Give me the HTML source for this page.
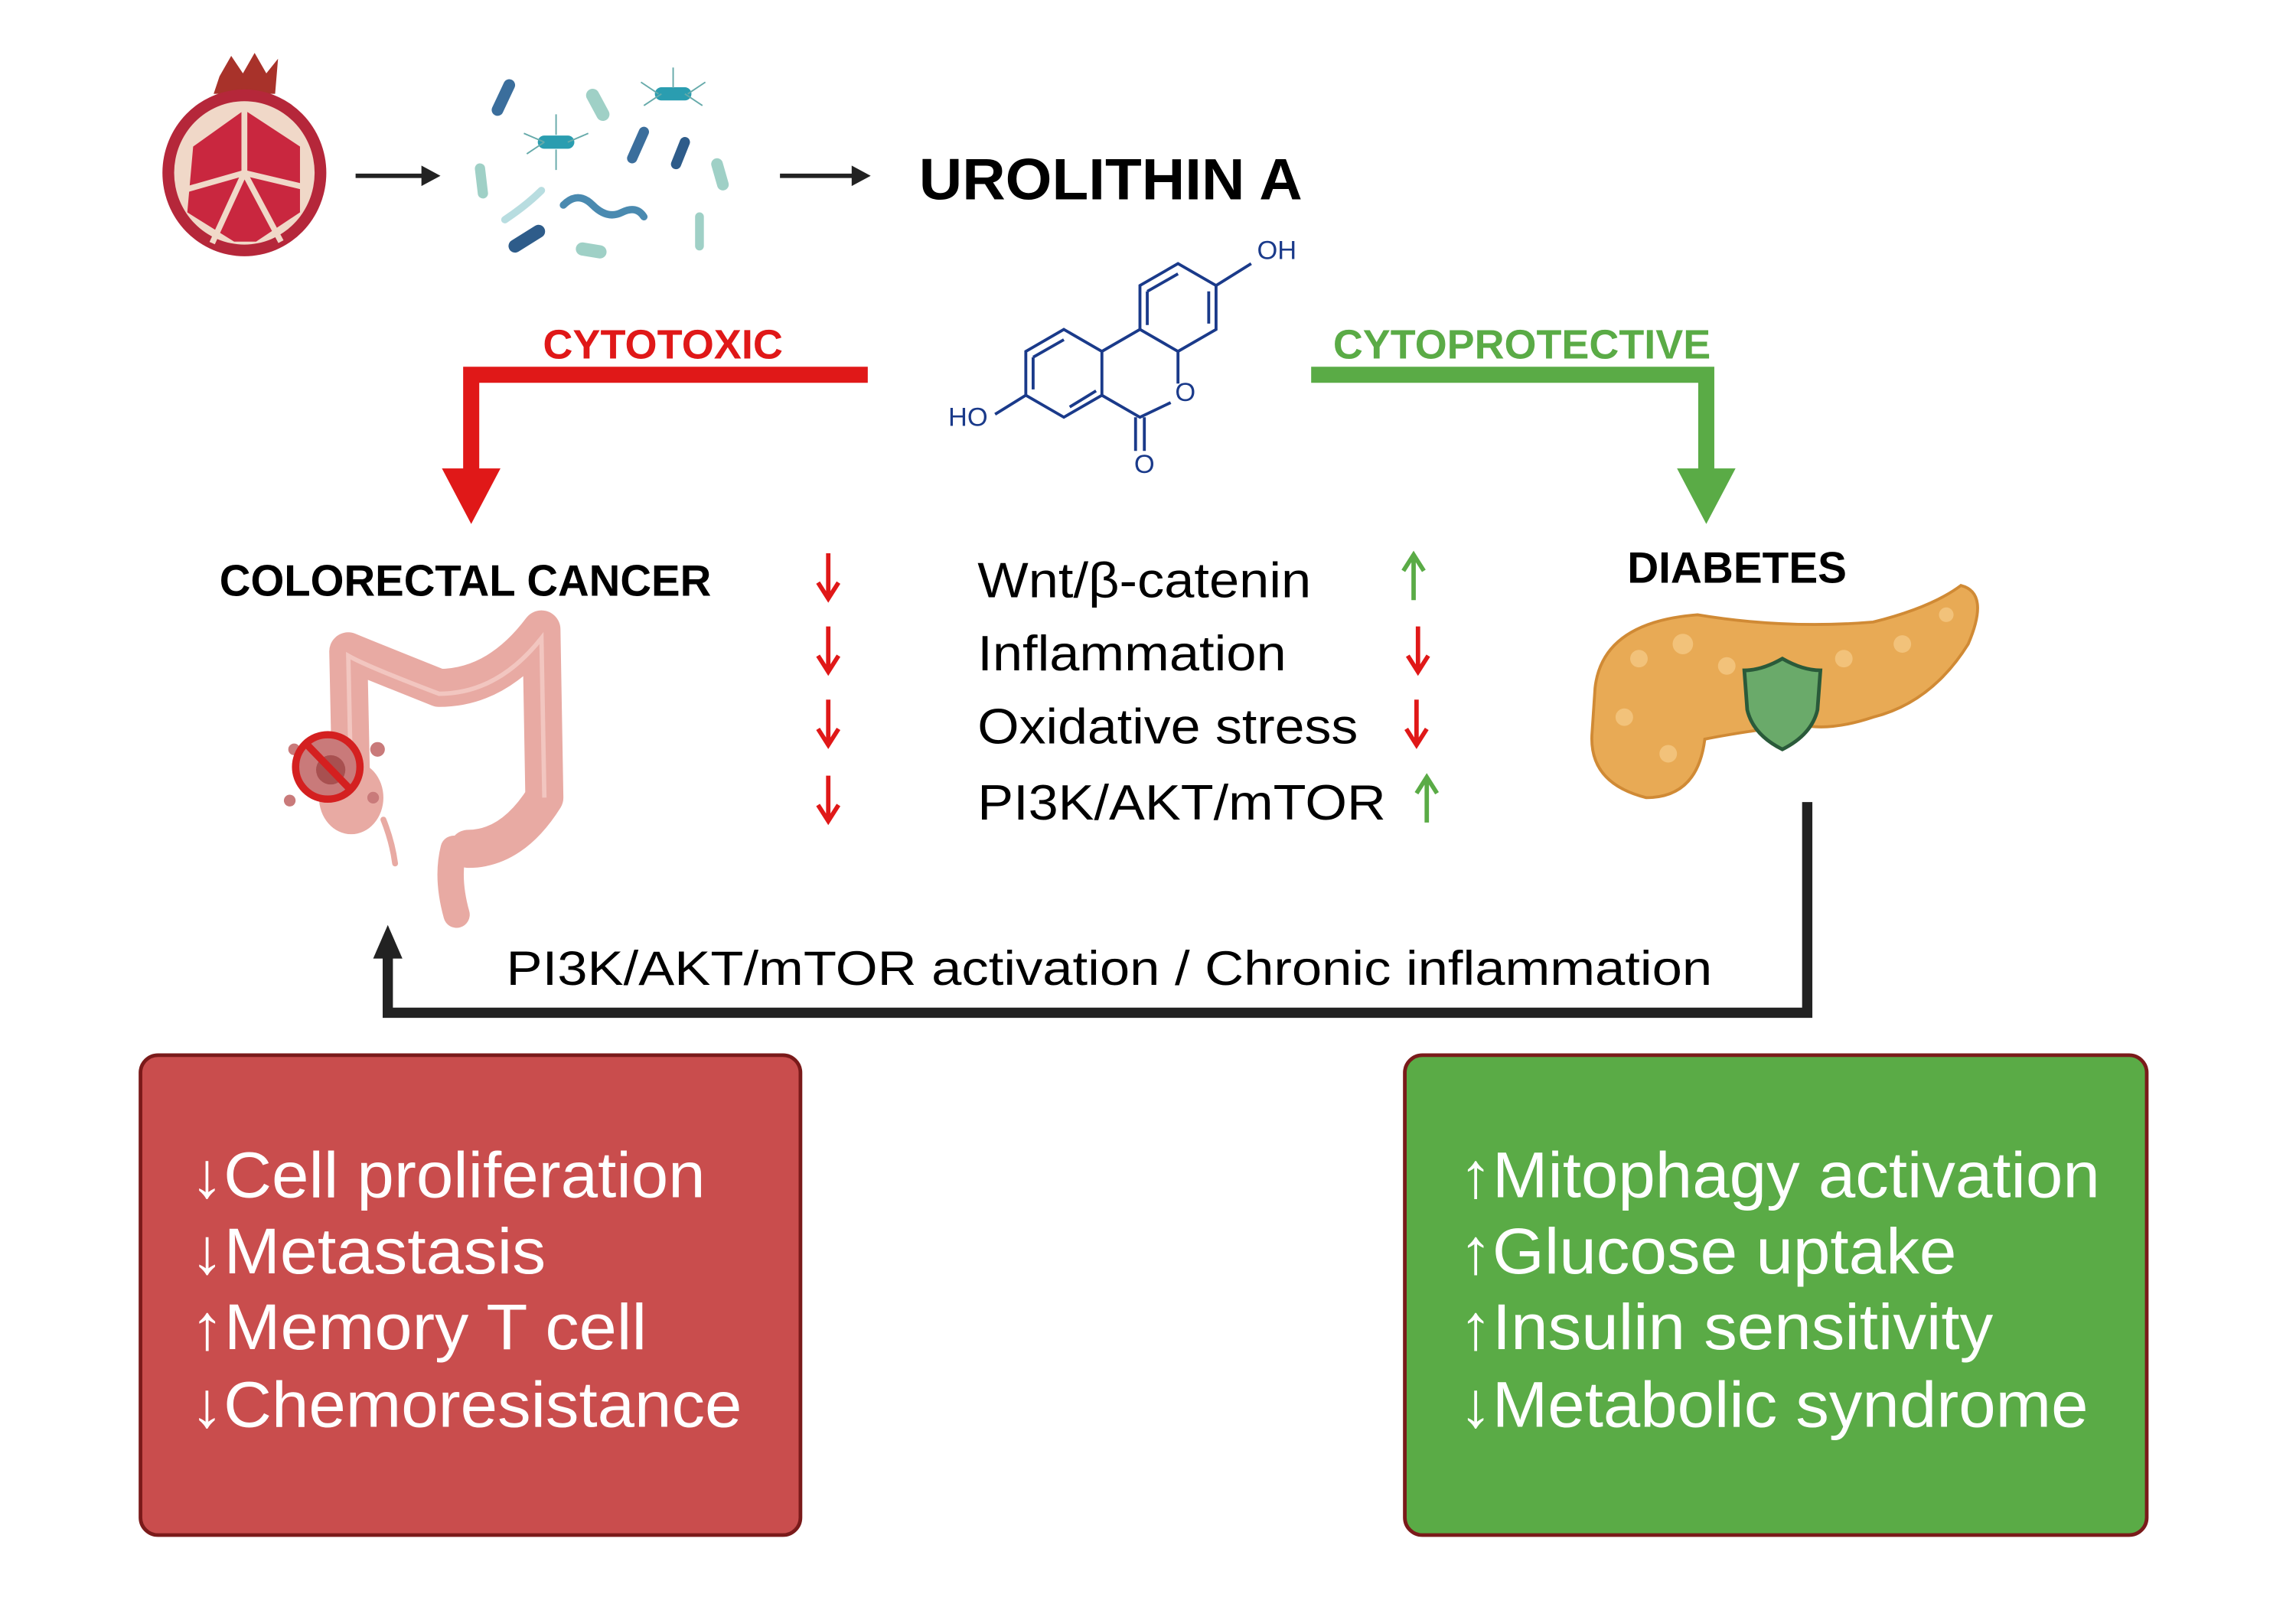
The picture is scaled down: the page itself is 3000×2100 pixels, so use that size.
<!DOCTYPE html>
<html><head><meta charset="utf-8"><style>
html,body{margin:0;padding:0;background:#fff}
svg{display:block}
text{font-family:"Liberation Sans",Arial,sans-serif}
</style></head><body>
<svg width="3000" height="2100" viewBox="0 0 1569 1098" xmlns="http://www.w3.org/2000/svg">
<rect width="1600" height="1100" fill="#fff"/>
<!-- pomegranate -->
<g>
<path d="M150 52 L158 38 L166 50 L174 36 L182 50 L190 40 L188 64 L146 64 Z" fill="#a8322a"/>
<ellipse cx="167" cy="118" rx="56" ry="57" fill="#b5273a"/>
<ellipse cx="167" cy="118" rx="48" ry="49" fill="#f0d8c8"/>
<path d="M167 75 L132 100 L128 145 L160 165 L175 165 L205 145 L205 100 Z" fill="#c9273f"/>
<g stroke="#f0d8c8" stroke-width="4">
<line x1="167" y1="118" x2="167" y2="70"/><line x1="167" y1="118" x2="125" y2="130"/><line x1="167" y1="118" x2="209" y2="128"/><line x1="167" y1="118" x2="145" y2="166"/><line x1="167" y1="118" x2="192" y2="165"/>
</g>
</g>
<!-- arrows -->
<g stroke="#222" stroke-width="3" fill="#222">
<line x1="243" y1="120" x2="290" y2="120"/><path d="M288 113 L301 120 L288 127 Z" stroke="none"/>
<line x1="533" y1="120" x2="583" y2="120"/><path d="M582 113 L595 120 L582 127 Z" stroke="none"/>
</g>
<!-- bacteria -->
<g stroke-linecap="round">
<line x1="340" y1="75" x2="348" y2="58" stroke="#3b6e9c" stroke-width="8"/>
<line x1="405" y1="65" x2="412" y2="78" stroke="#9fd0c6" stroke-width="9"/>
<line x1="452" y1="64" x2="468" y2="64" stroke="#2a9db0" stroke-width="9"/>
<line x1="372" y1="97" x2="388" y2="97" stroke="#2a9db0" stroke-width="9"/>
<line x1="432" y1="108" x2="440" y2="90" stroke="#3b6e9c" stroke-width="7"/>
<line x1="462" y1="112" x2="468" y2="97" stroke="#2e5c8a" stroke-width="7"/>
<line x1="490" y1="112" x2="494" y2="126" stroke="#9fd0c6" stroke-width="8"/>
<line x1="328" y1="115" x2="330" y2="132" stroke="#9fd0c6" stroke-width="7"/>
<path d="M385 140 Q395 130 405 140 T425 145 T440 148" stroke="#4a8ab0" stroke-width="5" fill="none"/>
<path d="M345 150 Q360 140 370 130" stroke="#b8dde0" stroke-width="5" fill="none"/>
<line x1="352" y1="168" x2="368" y2="158" stroke="#2e5c8a" stroke-width="9"/>
<line x1="398" y1="170" x2="410" y2="172" stroke="#9fd0c6" stroke-width="9"/>
<line x1="478" y1="148" x2="478" y2="168" stroke="#9fd0c6" stroke-width="6"/>
</g>
<g stroke="#6aa" stroke-width="1" fill="none">
<path d="M450 64 l-12 -8 M470 64 l12 -8 M452 64 l-12 8 M468 64 l12 8 M460 60 l0 -14 M372 97 l-14 -6 M388 97 l14 -6 M380 92 l0 -14 M380 102 l0 14 M372 97 l-12 8"/>
</g>
<text x="628" y="136" font-size="40" font-weight="bold" textLength="262" lengthAdjust="spacingAndGlyphs" fill="#000">UROLITHIN A</text>
<!-- molecule -->
<g stroke="#1a3a8a" stroke-width="2" fill="none">
<path d="M727 225 L753 240 L753 270 L727 285 L701 270 L701 240 Z"/>
<path d="M753 240 L779 225 L805 240 L805 262 M800 275 L779 285 L753 270"/>
<path d="M779 225 L779 195 L805 180 L831 195 L831 225 L805 240"/>
<path d="M706 244 L727 232 M706 266 L706 244 M731 278 L749 267 M784 199 L805 187 M826 199 L826 221 M784 222 L784 199"/>
<path d="M831 195 L855 180 M701 270 L680 283 M776 285 L776 308 M782 285 L782 308"/>
</g>
<g fill="#1a3a8a" font-size="18">
<text x="859" y="177">OH</text><text x="648" y="291">HO</text><text x="803" y="274">O</text><text x="775" y="323">O</text>
</g>
<!-- red branch -->
<text x="371" y="245" font-size="28" font-weight="bold" fill="#e01818" textLength="164" lengthAdjust="spacingAndGlyphs">CYTOTOXIC</text>
<path d="M593 256 L322 256 L322 322" stroke="#e01818" stroke-width="11" fill="none"/>
<path d="M302 320 L342 320 L322 358 Z" fill="#e01818"/>
<!-- green branch -->
<text x="911" y="245" font-size="28" font-weight="bold" fill="#5aab46" textLength="258" lengthAdjust="spacingAndGlyphs">CYTOPROTECTIVE</text>
<path d="M896 256 L1166 256 L1166 322" stroke="#5aab46" stroke-width="11" fill="none"/>
<path d="M1146 320 L1186 320 L1166 358 Z" fill="#5aab46"/>
<text x="150" y="407" font-size="30" font-weight="bold" textLength="336" lengthAdjust="spacingAndGlyphs">COLORECTAL CANCER</text>
<text x="1112" y="398" font-size="30" font-weight="bold" textLength="150" lengthAdjust="spacingAndGlyphs">DIABETES</text>
<!-- middle list -->
<g font-size="34" fill="#000">
<text x="668" y="408" textLength="228" lengthAdjust="spacingAndGlyphs">Wnt/β-catenin</text>
<text x="668" y="458" textLength="211" lengthAdjust="spacingAndGlyphs">Inflammation</text>
<text x="668" y="508" textLength="260" lengthAdjust="spacingAndGlyphs">Oxidative stress</text>
<text x="668" y="560" textLength="279" lengthAdjust="spacingAndGlyphs">PI3K/AKT/mTOR</text>
</g>
<g stroke-width="3" fill="none">
<g stroke="#e01818">
<path d="M566 378 V408 M559 398 L566 409 L573 398"/>
<path d="M566 428 V458 M559 448 L566 459 L573 448"/>
<path d="M566 478 V508 M559 498 L566 509 L573 498"/>
<path d="M566 530 V560 M559 550 L566 561 L573 550"/>
<path d="M969 428 V458 M962 448 L969 459 L976 448"/>
<path d="M968 478 V508 M961 498 L968 509 L975 498"/>
</g>
<g stroke="#5aab46">
<path d="M966 410 V380 M959 390 L966 379 L973 390"/>
<path d="M975 562 V532 M968 542 L975 531 L982 542"/>
</g>
</g>
<!-- colon -->
<g fill="none" stroke="#e8aaa3" stroke-linecap="round" stroke-linejoin="round">
<path d="M240 540 L238 445 Q250 450 300 470 Q340 470 370 430 L372 545 Q350 580 320 580" stroke-width="26"/>
<path d="M310 580 Q305 600 312 625" stroke-width="18"/>
<ellipse cx="240" cy="545" rx="22" ry="25" fill="#e8aaa3" stroke="none"/>
<path d="M262 560 Q268 575 270 590" stroke-width="4"/>
</g>
<g fill="none" stroke="#f2c6c0" stroke-width="3">
<path d="M240 540 L238 448 Q250 455 300 474 Q340 474 370 436 L372 545"/>
</g>
<circle cx="224" cy="524" r="22" fill="#c97a7a"/>
<circle cx="226" cy="526" r="10" fill="#a85050"/>
<circle cx="201" cy="512" r="4" fill="#c97a7a"/><circle cx="258" cy="512" r="5" fill="#c97a7a"/><circle cx="198" cy="547" r="4" fill="#c97a7a"/><circle cx="255" cy="545" r="4" fill="#c97a7a"/>
<circle cx="224" cy="524" r="22" fill="none" stroke="#d42020" stroke-width="5"/>
<line x1="209" y1="508" x2="240" y2="540" stroke="#d42020" stroke-width="5"/>
<!-- pancreas -->
<g fill="#e8aa55" stroke="#d08a35" stroke-width="2">
<path d="M1090 470 Q1095 425 1160 420 Q1220 430 1280 425 Q1320 415 1340 400 Q1360 405 1345 440 Q1320 480 1280 490 Q1250 500 1230 495 Q1190 500 1165 505 Q1160 545 1125 545 Q1085 535 1088 500 Z"/>
</g>
<g fill="#f2c27a">
<circle cx="1120" cy="450" r="6"/><circle cx="1150" cy="440" r="7"/><circle cx="1180" cy="455" r="6"/><circle cx="1260" cy="450" r="6"/><circle cx="1300" cy="440" r="6"/><circle cx="1330" cy="420" r="5"/><circle cx="1110" cy="490" r="6"/><circle cx="1140" cy="515" r="6"/>
</g>
<path d="M1218 450 Q1232 458 1244 458 L1242 485 Q1238 502 1218 512 Q1198 502 1194 485 L1192 458 Q1204 458 1218 450 Z" fill="#6aaa6a" stroke="#2a5a3a" stroke-width="2.5"/>
<!-- feedback connector -->
<path d="M1235 548 L1235 692 L265 692 L265 652" stroke="#222" stroke-width="7" fill="none"/>
<path d="M255 655 L265 632 L275 655 Z" fill="#222"/>
<text x="346" y="673" font-size="33" textLength="824" lengthAdjust="spacingAndGlyphs">PI3K/AKT/mTOR activation  /  Chronic inflammation</text>
<!-- boxes -->
<rect x="96" y="721" width="451" height="328" rx="12" fill="#c94d4d" stroke="#7a1a1a" stroke-width="2.5"/>
<rect x="960" y="721" width="507" height="328" rx="12" fill="#5aab46" stroke="#7a1a1a" stroke-width="2.5"/>
<g font-size="44" fill="#fff">
<text x="130" y="818" textLength="352" lengthAdjust="spacingAndGlyphs">↓Cell proliferation</text>
<text x="130" y="870" textLength="243" lengthAdjust="spacingAndGlyphs">↓Metastasis</text>
<text x="130" y="922" textLength="312" lengthAdjust="spacingAndGlyphs">↑Memory T cell</text>
<text x="130" y="975" textLength="377" lengthAdjust="spacingAndGlyphs">↓Chemoresistance</text>
<text x="997" y="818" textLength="438" lengthAdjust="spacingAndGlyphs">↑Mitophagy activation</text>
<text x="997" y="870" textLength="340" lengthAdjust="spacingAndGlyphs">↑Glucose uptake</text>
<text x="997" y="922" textLength="365" lengthAdjust="spacingAndGlyphs">↑Insulin sensitivity</text>
<text x="997" y="975" textLength="430" lengthAdjust="spacingAndGlyphs">↓Metabolic syndrome</text>
</g>
</svg>
</body></html>
